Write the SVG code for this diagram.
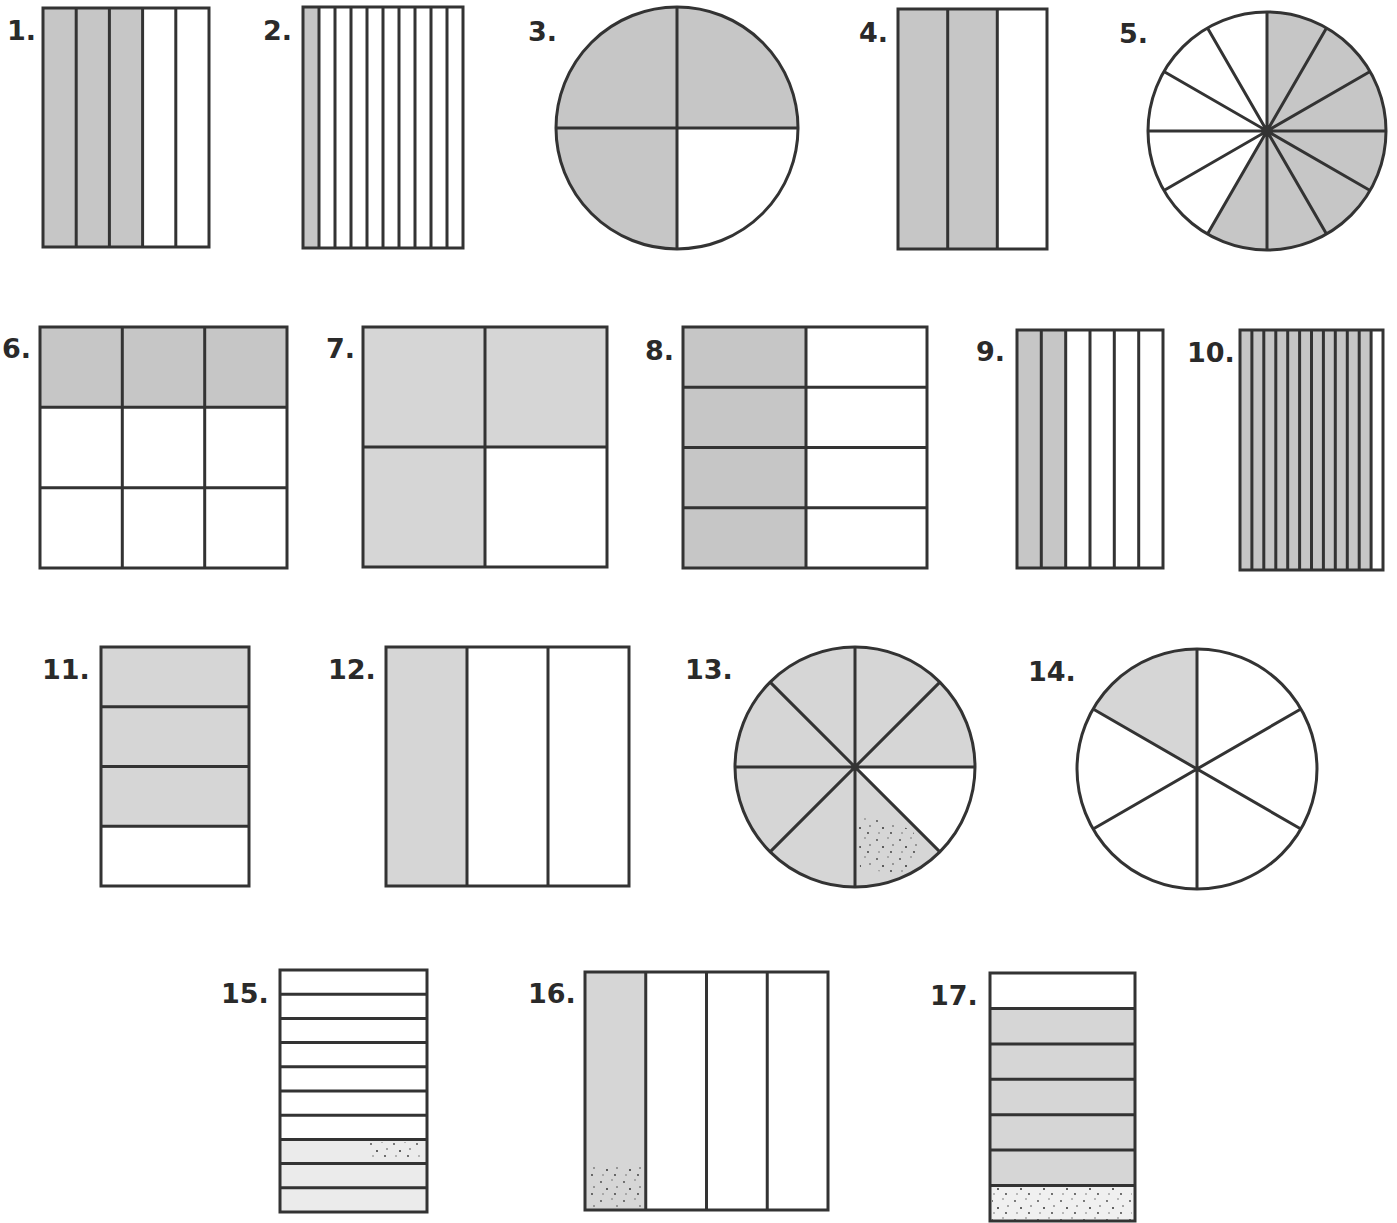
<svg xmlns="http://www.w3.org/2000/svg" width="1397" height="1223" viewBox="0 0 1397 1223">
<style>
.o{fill:none;stroke:#333;stroke-width:3}
.l{stroke:#333;stroke-width:3;fill:none}
.d{fill:#c6c6c6}
.m{fill:#d6d6d6}
.p{fill:#ebebeb}
.t{font-family:"DejaVu Sans",Verdana,sans-serif;font-weight:bold;font-size:27px;fill:#2a2a2a}
</style>
<defs>
<pattern id="speck" patternUnits="userSpaceOnUse" width="23" height="19">
<circle cx="3" cy="4" r="0.9" fill="#444"/>
<circle cx="14" cy="2" r="0.7" fill="#555"/>
<circle cx="9" cy="11" r="1" fill="#333"/>
<circle cx="19" cy="9" r="0.8" fill="#444"/>
<circle cx="5" cy="16" r="0.7" fill="#555"/>
<circle cx="17" cy="16" r="0.9" fill="#333"/>
</pattern>
</defs>
<rect width="1397" height="1223" fill="#fff"/>

<g id="fig1">
<text class="t" x="7" y="40">1.</text>
<rect class="d" x="43" y="8" width="99.6" height="239"/>
<path class="l" d="M76.2 8V247M109.4 8V247M142.6 8V247M175.8 8V247"/>
<rect class="o" x="43" y="8" width="166" height="239"/>
</g>

<g id="fig2">
<text class="t" x="263" y="40">2.</text>
<rect class="d" x="303" y="7" width="16" height="241"/>
<path class="l" d="M319 7V248M335 7V248M351 7V248M367 7V248M383 7V248M399 7V248M415 7V248M431 7V248M447 7V248"/>
<rect class="o" x="303" y="7" width="160" height="241"/>
</g>

<g id="fig3">
<text class="t" x="528" y="41">3.</text>
<path class="d" d="M677 128L677 249A121 121 0 1 1 798 128Z"/>
<circle class="o" cx="677" cy="128" r="121"/>
<path class="l" d="M677 7V249M556 128H798"/>
</g>

<g id="fig4">
<text class="t" x="859" y="42">4.</text>
<rect class="d" x="898" y="9" width="99.3" height="240"/>
<path class="l" d="M947.7 9V249M997.3 9V249"/>
<rect class="o" x="898" y="9" width="149" height="240"/>
</g>

<g id="fig5">
<text class="t" x="1119" y="43">5.</text>
<path class="d" d="M1267 131L1267 12A119 119 0 1 1 1207.5 234.1Z"/>
<circle class="o" cx="1267" cy="131" r="119"/>
<path class="l" d="M1267 12L1267 250M1326.5 27.9L1207.5 234.1M1370.1 71.5L1163.9 190.5M1386 131L1148 131M1370.1 190.5L1163.9 71.5M1326.5 234.1L1207.5 27.9"/>
</g>

<g id="fig6">
<text class="t" x="2" y="358">6.</text>
<rect class="d" x="40" y="327" width="247" height="80.3"/>
<path class="l" d="M122.3 327V568M204.7 327V568M40 407.3H287M40 487.7H287"/>
<rect class="o" x="40" y="327" width="247" height="241"/>
</g>

<g id="fig7">
<text class="t" x="326" y="358">7.</text>
<path class="m" d="M363 327H607V447H485V567H363Z"/>
<path class="l" d="M485 327V567M363 447H607"/>
<rect class="o" x="363" y="327" width="244" height="240"/>
</g>

<g id="fig8">
<text class="t" x="645" y="360">8.</text>
<rect class="d" x="683" y="327" width="123" height="241" fill="#c0c0c0"/>
<path class="l" d="M806 327V568M683 387.25H927M683 447.5H927M683 507.75H927"/>
<rect class="o" x="683" y="327" width="244" height="241"/>
</g>

<g id="fig9">
<text class="t" x="976" y="361">9.</text>
<rect class="d" x="1017" y="330" width="48.7" height="238"/>
<path class="l" d="M1041.3 330V568M1065.7 330V568M1090 330V568M1114.3 330V568M1138.7 330V568"/>
<rect class="o" x="1017" y="330" width="146" height="238"/>
</g>

<g id="fig10">
<text class="t" x="1187" y="362">10.</text>
<rect class="d" x="1240" y="330" width="131.1" height="240"/>
<path class="l" d="M1251.9 330V570M1263.8 330V570M1275.8 330V570M1287.7 330V570M1299.6 330V570M1311.5 330V570M1323.4 330V570M1335.3 330V570M1347.3 330V570M1359.2 330V570M1371.1 330V570"/>
<rect class="o" x="1240" y="330" width="143" height="240"/>
</g>

<g id="fig11">
<text class="t" x="42" y="679">11.</text>
<rect class="m" x="101" y="647" width="148" height="179.25"/>
<path class="l" d="M101 706.75H249M101 766.5H249M101 826.25H249"/>
<rect class="o" x="101" y="647" width="148" height="239"/>
</g>

<g id="fig12">
<text class="t" x="328" y="679">12.</text>
<rect class="m" x="386" y="647" width="81" height="239"/>
<path class="l" d="M467 647V886M548 647V886"/>
<rect class="o" x="386" y="647" width="243" height="239"/>
</g>

<g id="fig13">
<text class="t" x="685" y="679">13.</text>
<path class="m" d="M855 767L939.9 851.9A120 120 0 1 1 975 767Z"/>
<path fill="url(#speck)" d="M858 812L912 830L925 855L900 875L860 868Z"/>
<circle class="o" cx="855" cy="767" r="120"/>
<path class="l" d="M855 647V887M735 767H975M939.9 682.1L770.1 851.9M939.9 851.9L770.1 682.1"/>
</g>

<g id="fig14">
<text class="t" x="1028" y="681">14.</text>
<path class="m" d="M1197 769L1093.1 709A120 120 0 0 1 1197 649Z"/>
<circle class="o" cx="1197" cy="769" r="120"/>
<path class="l" d="M1197 649V889M1300.9 709L1093.1 829M1300.9 829L1093.1 709"/>
</g>

<g id="fig15">
<text class="t" x="221" y="1003">15.</text>
<rect class="p" x="280" y="1139.4" width="147" height="72.6"/>
<rect fill="url(#speck)" x="370" y="1142" width="50" height="18"/>
<path class="l" d="M280 994.2H427M280 1018.4H427M280 1042.6H427M280 1066.8H427M280 1091H427M280 1115.2H427M280 1139.4H427M280 1163.6H427M280 1187.8H427"/>
<rect class="o" x="280" y="970" width="147" height="242"/>
</g>

<g id="fig16">
<text class="t" x="528" y="1003">16.</text>
<rect class="m" x="585" y="972" width="60.75" height="238" fill="#dcdcdc"/>
<rect fill="url(#speck)" x="590" y="1165" width="52" height="42"/>
<path class="l" d="M645.75 972V1210M706.5 972V1210M767.25 972V1210"/>
<rect class="o" x="585" y="972" width="243" height="238"/>
</g>

<g id="fig17">
<text class="t" x="930" y="1005">17.</text>
<rect class="m" x="990" y="1008.4" width="145" height="212.6" fill="#dcdcdc"/>
<rect fill="#f0f0f0" x="990" y="1185.6" width="145" height="35.4"/>
<rect fill="url(#speck)" x="992" y="1188" width="140" height="32"/>
<path class="l" d="M990 1008.4H1135M990 1043.9H1135M990 1079.3H1135M990 1114.7H1135M990 1150.1H1135M990 1185.6H1135"/>
<rect class="o" x="990" y="973" width="145" height="248"/>
</g>
</svg>
